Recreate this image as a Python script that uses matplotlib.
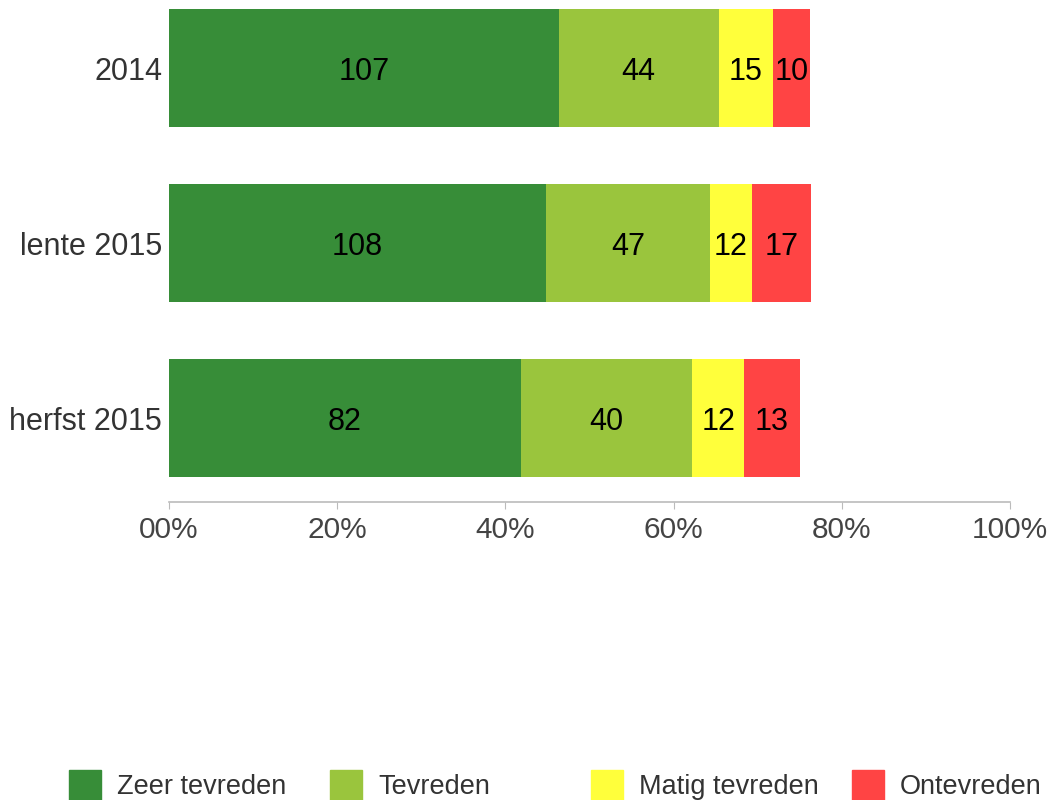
import numpy as np
import matplotlib.pyplot as plt
from matplotlib.patches import Rectangle

plt.rcParams['font.family'] = ['Liberation Sans', 'DejaVu Sans']

periods = ['2014', 'lente 2015', 'herfst 2015']
categories = ['Zeer tevreden', 'Tevreden', 'Matig tevreden', 'Ontevreden']
counts = [
    [107, 44, 15, 10],
    [108, 47, 12, 17],
    [82, 40, 12, 13],
]
# total respondents per period (percentages are based on these)
respondents = [231, 241, 196]
colors = ['#378D38', '#9AC53D', '#FFFF3B', '#FF4444']
xticks = [0, 20, 40, 60, 80, 100]
xlabels = ['00%', '20%', '40%', '60%', '80%', '100%']

fig = plt.figure(figsize=(10.52, 8.0), dpi=100)
ax = fig.add_axes([169 / 1052, 1 - 502 / 800, (1010 - 169) / 1052, 502 / 800])

y = np.arange(len(periods))
pct = np.array(counts) / np.array(respondents)[:, None] * 100
left = np.zeros(len(periods))
for j, cat in enumerate(categories):
    bars = ax.barh(y, pct[:, j], left=left, height=0.67, color=colors[j], label=cat)
    for i, b in enumerate(bars):
        ax.text(left[i] + pct[i, j] / 2, y[i], str(counts[i][j]),
                ha='center', va='center_baseline', fontsize=22, color='black')
    left += pct[:, j]

ax.set_xlim(0, 100)
ax.set_ylim(2.48, -0.389)
ax.set_yticks(y)
ax.set_yticklabels(periods, fontsize=22, color='#333333')
ax.set_xticks(xticks)
ax.set_xticklabels(xlabels, fontsize=21.5, color='#444444')
ax.tick_params(axis='y', length=0, pad=5)
ax.tick_params(axis='x', length=5, color='#BBBBBB', pad=5)
for s in ['top', 'right', 'left']:
    ax.spines[s].set_visible(False)
ax.spines['bottom'].set_color('#BBBBBB')
ax.spines['bottom'].set_linewidth(1.2)

# legend along the bottom edge
for j, cat in enumerate(categories):
    x0 = (69 + 261 * j) / 1052
    fig.add_artist(Rectangle((x0, 0), 32 / 1052, 30 / 800, transform=fig.transFigure,
                             color=colors[j], clip_on=False))
    fig.text(x0 + 48 / 1052, 13 / 800, cat, fontsize=19.5, color='#333333',
             va='center', ha='left')

fig.savefig('out.png', dpi=100)
